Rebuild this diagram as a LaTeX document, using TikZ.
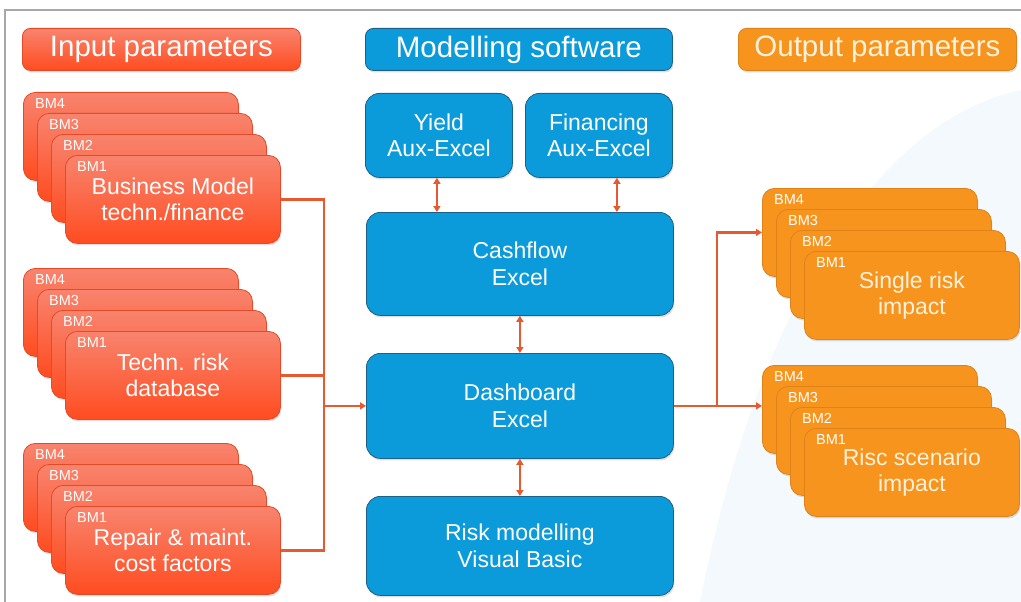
\documentclass[tikz,border=0pt]{standalone}
\usepackage{fontspec}
\setmainfont{Liberation Sans}
\usepackage{xcolor}
\usepackage{tikz}
\usetikzlibrary{arrows.meta}
\usetikzlibrary{calc}
\usetikzlibrary{shadows}
\definecolor{intop}{HTML}{F8846E}
\definecolor{inbot}{HTML}{FF4C20}
\definecolor{inedge}{HTML}{E24A28}
\definecolor{swfill}{HTML}{0C9BDA}
\definecolor{swedge}{HTML}{1D6088}
\definecolor{outfill}{HTML}{F7941E}
\definecolor{outedge}{HTML}{E0821A}
\definecolor{outtext}{HTML}{FFF2DC}
\definecolor{linkc}{HTML}{E8592F}
\definecolor{framec}{HTML}{A8A8A8}
\definecolor{bgtint}{HTML}{F3F9FD}
\newcommand\bigtxt{\fontsize{29.5}{31}\selectfont}
\newcommand\boxtxt{\fontsize{23}{26.5}\selectfont}
\newcommand\bmtxt{\fontsize{14.5}{15}\selectfont}
\tikzstyle{shadowed}=[drop shadow={shadow xshift=1pt,shadow yshift=-2pt,opacity=.25}]
\tikzstyle{box}=[anchor=north west,inner sep=0pt,align=center,shadowed]
\tikzstyle{hdr}=[box,rounded corners=8pt,minimum width=278pt,minimum height=42pt,font=\bigtxt]
\tikzstyle{inhdr}=[hdr,draw=inedge,line width=.8pt,top color=intop,bottom color=inbot,text=white]
\tikzstyle{swhdr}=[hdr,draw=swedge,line width=.8pt,fill=swfill,text=white,minimum width=307pt]
\tikzstyle{outhdr}=[hdr,draw=outedge,line width=.8pt,fill=outfill,text=outtext]
\tikzstyle{bm}=[box,rounded corners=12pt,minimum width=215pt,minimum height=88pt,font=\boxtxt,line width=.8pt]
\tikzstyle{inbm}=[bm,draw=inedge,top color=intop,bottom color=inbot,text=white]
\tikzstyle{outbm}=[bm,draw=outedge,fill=outfill,text=outtext]
\tikzstyle{bmlab}=[anchor=north west,inner sep=0pt,xshift=12pt,yshift=-6pt,font=\bmtxt,text=white]
\tikzstyle{sw}=[box,rounded corners=14pt,draw=swedge,line width=.8pt,fill=swfill,text=white,font=\boxtxt]
\tikzstyle{link}=[draw=linkc,line width=2.2pt]
\tikzstyle{arr}=[link,-{Triangle[length=6pt,width=7pt]}]
\tikzstyle{biarr}=[link,{Triangle[length=6pt,width=7pt]}-{Triangle[length=6pt,width=7pt]}]
% stack of four business model boxes: name, x, y, style, text
\newcommand\bmstack[5]{%
  \foreach \i in {4,3,2} {
    \node[#4] (#1-\i) at ({#2+14*(4-\i)},{#3+21*(4-\i)}) {};
    \node[bmlab] at (#1-\i.north west) {BM\i};
  }
  \node[#4] (#1-1) at ({#2+42},{#3+63}) {#5};
  \node[bmlab] at (#1-1.north west) {BM1};
}
\begin{document}
\begin{tikzpicture}[x=1pt,y=-1pt]
\useasboundingbox (0,0) rectangle (1021,602);
\fill[bgtint] (700,602) .. controls (760,300) and (880,120) .. (1021,90) -- (1021,602) -- cycle;
\draw[framec,line width=1.2pt] (5,602) -- (5,10) -- (1021,10);
\node[inhdr] (inp) at (22,28) {Input parameters};
\node[swhdr] (soft) at (365,28) {Modelling software};
\node[outhdr] (outp) at (738,28) {Output parameters};
\bmstack{bus}{23}{92}{inbm}{Business Model\\techn./finance}
\bmstack{tech}{23}{268}{inbm}{Techn. risk\\database}
\bmstack{rep}{23}{443}{inbm}{Repair \& maint.\\cost factors}
\bmstack{single}{762}{188}{outbm}{Single risk\\impact}
\bmstack{risc}{762}{365}{outbm}{Risc scenario\\impact}
\node[sw,minimum width=147pt,minimum height=84pt] (yield) at (365,93) {Yield\\Aux-Excel};
\node[sw,minimum width=147pt,minimum height=84pt] (fin) at (525,93) {Financing\\Aux-Excel};
\node[sw,minimum width=307pt,minimum height=103pt] (cash) at (366,212) {Cashflow\\Excel};
\node[sw,minimum width=307pt,minimum height=105pt] (dash) at (366,353) {Dashboard\\Excel};
\node[sw,minimum width=307pt,minimum height=99pt] (risk) at (366,496) {Risk modelling\\Visual Basic};
\coordinate (jin) at ($(dash.west)+(-42,0)$);
\coordinate (jout) at ($(dash.east)+(43,0)$);
\coordinate (f1) at ([xshift=18pt]fin.south);
\coordinate (y1) at ([xshift=-2pt]yield.south);
\draw[link] (bus-1.east) -| (jin);
\draw[link] (rep-1.east) -| (jin);
\draw[link] (tech-1.east) -- (tech-1.east -| jin);
\draw[arr] (jin) -- (dash.west);
\draw[arr] (dash.east) -- (dash.east -| risc-4.west);
\draw[arr] (jout) |- (single-4.west);
\draw[biarr] (y1) -- (y1 |- cash.north);
\draw[biarr] (f1) -- (f1 |- cash.north);
\draw[biarr] (cash.south) -- (dash.north);
\draw[biarr] (dash.south) -- (risk.north);
\end{tikzpicture}
\end{document}
